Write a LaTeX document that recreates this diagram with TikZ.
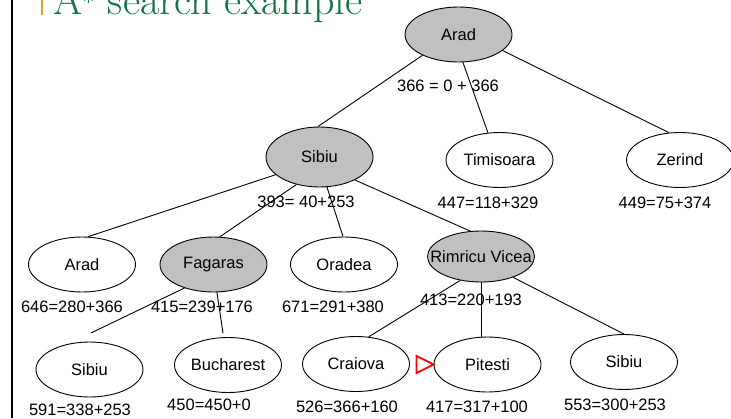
\documentclass[tikz,border=0pt]{standalone}
\usepackage{fontspec}
\usepackage{xcolor}
\usepackage{tikz}
\usetikzlibrary{shapes.geometric,calc}
\newfontfamily\arialfont{Liberation Sans}
\definecolor{titlegreen}{RGB}{18,115,70}
\definecolor{barorange}{RGB}{222,160,40}
\definecolor{nodegray}{RGB}{192,192,192}

\begin{document}
\begin{tikzpicture}[x=1pt,y=-1pt,
  city/.style={ellipse, draw, line width=0.9pt, minimum width=107pt, minimum height=55pt,
    inner sep=0pt, font=\arialfont\fontsize{16.5}{18}\selectfont},
  open/.style={city, fill=white},
  expanded/.style={city, fill=nodegray},
  cost/.style={inner sep=0pt, font=\arialfont\fontsize{16.5}{18}\selectfont},
  edge/.style={line width=0.9pt},
  marker/.style={draw=red, line width=1.8pt, line join=miter}]
  \useasboundingbox (0,0) rectangle (731,418);
  \clip (0,0) rectangle (731,418);

  % slide frame and title
  \draw[line width=2.5pt] (12,0) -- (12,418);
  \fill[barorange] (41,0) rectangle (43,15);
  \node[anchor=base west, inner sep=0pt, text=titlegreen, font=\fontsize{42}{44}\selectfont]
    (title) at (53,14) {A$^{*}$ search example};

  % search tree
  \node[expanded] (arad) at (458.5,34.5) {Arad};
  \node[expanded, minimum height=60pt] (sibiu) at (319.5,157) {Sibiu};
  \node[open] (timisoara) at (499.5,160) {Timisoara};
  \node[open] (zerind) at (680,160) {Zerind};
  \node[open] (arad2) at (82,264.5) {Arad};
  \node[expanded] (fagaras) at (213.5,264.5) {Fagaras};
  \node[open] (oradea) at (344,264.5) {Oradea};
  \node[expanded, minimum height=51pt] (rimricu) at (481,256.5) {\makebox[0pt]{Rimricu Vicea}};
  \node[open] (sibiu3) at (89.5,369.5) {Sibiu};
  \node[open] (bucharest) at (228,365) {Bucharest};
  \node[open] (craiova) at (356,364) {Craiova};
  \node[open] (pitesti) at (487.5,364.5) {Pitesti};
  \node[open] (sibiu4) at (624,362) {Sibiu};

  % f = g + h
  \node[cost] (c-arad) at (448,86) {366 = 0 + 366};
  \node[cost] (c-sibiu) at (306,202) {393= 40+253};
  \node[cost] (c-timisoara) at (488,203) {447=118+329};
  \node[cost] (c-zerind) at (665,203) {449=75+374};
  \node[cost] (c-arad2) at (72,307) {646=280+366};
  \node[cost] (c-fagaras) at (202,307) {415=239+176};
  \node[cost] (c-oradea) at (333,307) {671=291+380};
  \node[cost] (c-rimricu) at (471,300) {413=220+193};
  \node[cost] (c-sibiu3) at (80,410) {591=338+253};
  \node[cost] (c-bucharest) at (209,405) {450=450+0};
  \node[cost] (c-craiova) at (347,407) {526=366+160};
  \node[cost] (c-pitesti) at (477,407) {417=317+100};
  \node[cost] (c-sibiu4) at (615,405) {553=300+253};

  \draw[edge] (arad.-150) -- (sibiu.93);
  \draw[edge] (arad.-81) -- (timisoara.113);
  \draw[edge] (arad.-20) -- (zerind.112);
  \draw[edge] (sibiu.202) -- (arad2.78);
  \draw[edge] (sibiu.230) -- (fagaras.77);
  \draw[edge] (sibiu.284) -- (oradea.92);
  \draw[edge] (sibiu.-33) -- (rimricu.113);
  \draw[edge, shorten >=25pt] (fagaras.219) -- (sibiu3.129);
  \draw[edge, shorten >=4pt] (fagaras.-83) -- (bucharest.99);
  \draw[edge] (rimricu.229.5) -- (craiova.65);
  \draw[edge] (rimricu.south) -- (rimricu.south |- pitesti.north);
  \draw[edge] (rimricu.-33.5) -- (sibiu4.north);

  % current node
  \draw[marker] (pitesti.west) -- ++(-17,-8.5) -- ++(0,17) -- cycle;
\end{tikzpicture}
\end{document}
